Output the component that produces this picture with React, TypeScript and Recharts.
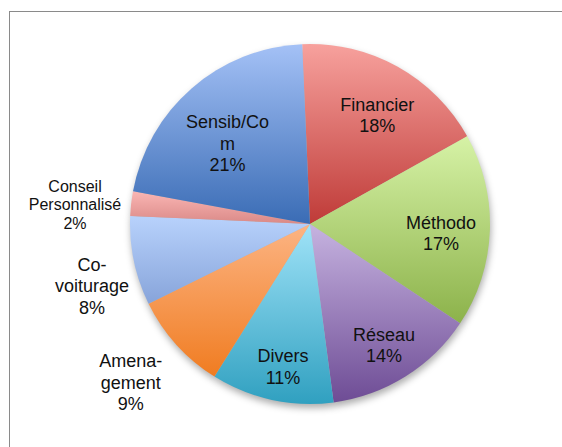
import React from 'react';
import { PieChart, Pie, Cell } from 'recharts';

const categories = ['Financier', 'Méthodo', 'Réseau', 'Divers', 'Amenagement', 'Co-voiturage', 'Conseil Personnalisé', 'Sensib/Com'];
const values = [17.6, 17.4, 13.6, 11.0, 8.8, 8.0, 2.2, 21.4];
const labelLines = [['Financier'], ['Méthodo'], ['Réseau'], ['Divers'], ['Amena-', 'gement'], ['Co-', 'voiturage'], ['Conseil', 'Personnalisé'], ['Sensib/Co', 'm']];

const topColors = ['#f7a19d', '#d6f2a6', '#c6b3e0', '#a0e3f8', '#fcb483', '#b8d2fc', '#fab6b4', '#a4c1f6'];
const bottomColors = ['#bf3b38', '#8cb24a', '#6e4c95', '#30a0c0', '#f07c21', '#87a4da', '#da8987', '#3a6cb5'];

// label placement: radius factor and angular nudge (deg) relative to slice mid-angle
const labelRadius = [0.71, 0.73, 0.79, 0.81, 1.33, 1.26, 1.31, 0.64];
const labelNudge = [-2.6, -1.9, -0.7, 1.6, -0.6, 4.1, 1.7, 4.7];
const labelFont = [18, 18, 18, 18, 18, 18, 16, 18];
const labelLead = [1.2, 1.2, 1.2, 1.2, 1.2, 1.2, 1.15, 1.2];

const data = categories.map((name, i) => ({ name, value: values[i] }));

const RAD = Math.PI / 180;

const renderLabel = (props: any) => {
  const { cx, cy, midAngle, outerRadius, index, percent } = props;
  const ang = (midAngle + labelNudge[index]) * RAD;
  const r = outerRadius * labelRadius[index];
  const x = cx + r * Math.cos(ang);
  const y = cy - r * Math.sin(ang);
  const lines = [...labelLines[index], `${Math.round(percent * 100)}%`];
  const fs = labelFont[index];
  const lh = fs * labelLead[index];
  const y0 = y - ((lines.length - 1) / 2) * lh;
  return (
    <text
      x={x}
      y={y0}
      textAnchor="middle"
      dominantBaseline="central"
      fill="#111"
      style={{ fontFamily: '"Liberation Sans", Arial, sans-serif', fontSize: fs }}
    >
      {lines.map((l, i) => (
        <tspan key={i} x={x} y={y0 + i * lh} dominantBaseline="central">
          {l}
        </tspan>
      ))}
    </text>
  );
};

export default function App() {
  return (
    <div style={{ position: 'fixed', left: 0, top: 0, width: 562, height: 447, overflow: 'hidden', background: '#fff' }}>
      <div
        style={{
          position: 'absolute',
          left: 9,
          top: 11,
          width: 620,
          height: 620,
          border: '1px solid #8a8a8a',
        }}
      />
      <div style={{ position: 'absolute', left: 8, top: 8 }}>
        <PieChart width={554} height={439} margin={{ top: 0, right: 0, bottom: 0, left: 0 }}>
          <defs>
            {categories.map((c, i) => (
              <linearGradient key={c} id={`grad${i}`} x1="0" y1="0" x2="0" y2="1">
                <stop offset="0%" stopColor={topColors[i]} />
                <stop offset="100%" stopColor={bottomColors[i]} />
              </linearGradient>
            ))}
            <filter id="shadowBlur" x="-20%" y="-20%" width="140%" height="140%">
              <feGaussianBlur stdDeviation="3.5" />
            </filter>
          </defs>
          <Pie
            data={data}
            dataKey="value"
            cx={303}
            cy={220}
            outerRadius={180}
            startAngle={92.5}
            endAngle={-267.5}
            isAnimationActive={false}
            stroke="none"
            label={false}
            labelLine={false}
            legendType="none"
          >
            {data.map((d) => (
              <Cell key={d.name} fill="#000" fillOpacity={0.32} stroke="none" filter="url(#shadowBlur)" />
            ))}
          </Pie>
          <Pie
            data={data}
            dataKey="value"
            cx={302}
            cy={216}
            outerRadius={180}
            startAngle={92.5}
            endAngle={-267.5}
            isAnimationActive={false}
            stroke="none"
            label={renderLabel}
            labelLine={false}
          >
            {data.map((d, i) => (
              <Cell key={d.name} fill={`url(#grad${i})`} stroke="none" />
            ))}
          </Pie>
        </PieChart>
      </div>
    </div>
  );
}
